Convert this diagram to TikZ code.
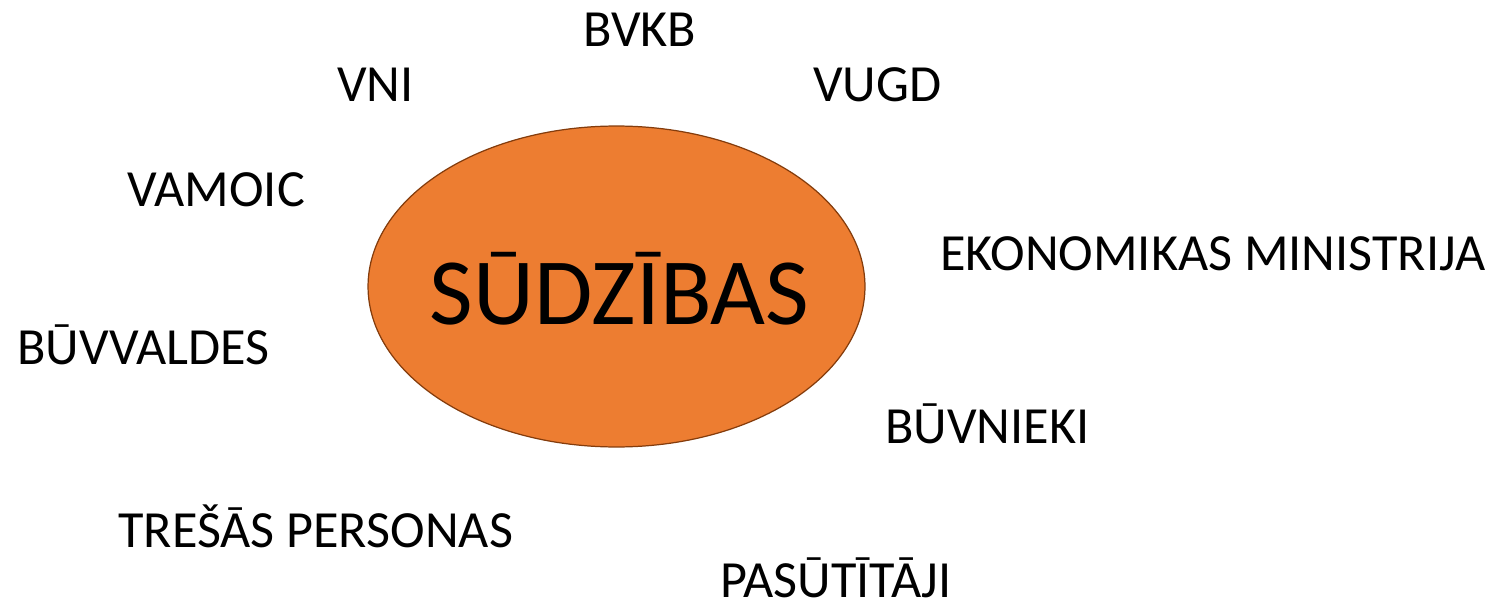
\documentclass[tikz,border=0pt]{standalone}
\usepackage{fontspec}
\setmainfont{Carlito}
\usepackage{xcolor}
\usepackage{tikz}
\usetikzlibrary{shapes.geometric}
\definecolor{blobfill}{HTML}{ED7D31}
\definecolor{blobline}{HTML}{843C0C}
\tikzset{
  blob/.style={ellipse, fill=blobfill, draw=blobline, line width=0.7pt,
    minimum width=9.94cm, minimum height=6.42cm, inner sep=0pt},
  big/.style={anchor=base, inner sep=0pt, font=\fontsize{54}{60}\selectfont},
  lab/.style={anchor=base west, inner sep=0pt, font=\fontsize{29.7}{34}\selectfont},
}
\begin{document}
\begin{tikzpicture}[x=0.02cm, y=-0.02cm]
  \useasboundingbox (0,0) rectangle (1493,601);

  \node[blob] (sudz) at (616.5,286.5) {};
  \node[big] (sudztext) at (619.5,324) {SŪDZĪBAS};

  \node[lab] (bvkb) at (583,47) {BVKB};
  \node[lab] (vni) at (337,102) {VNI};
  \node[lab] (vugd) at (813,102) {VUGD};
  \node[lab] (vamoic) at (127,207) {VAMOIC};
  \node[lab] (em) at (940,270) {EKONOMIKAS MINISTRIJA};
  \node[lab] (buvv) at (17,364) {BŪVVALDES};
  \node[lab] (buvn) at (885,443) {BŪVNIEKI};
  \node[lab] (tres) at (118,547) {TREŠĀS PERSONAS};
  \node[lab] (pas) at (720,597) {PASŪTĪTĀJI};
\end{tikzpicture}
\end{document}
